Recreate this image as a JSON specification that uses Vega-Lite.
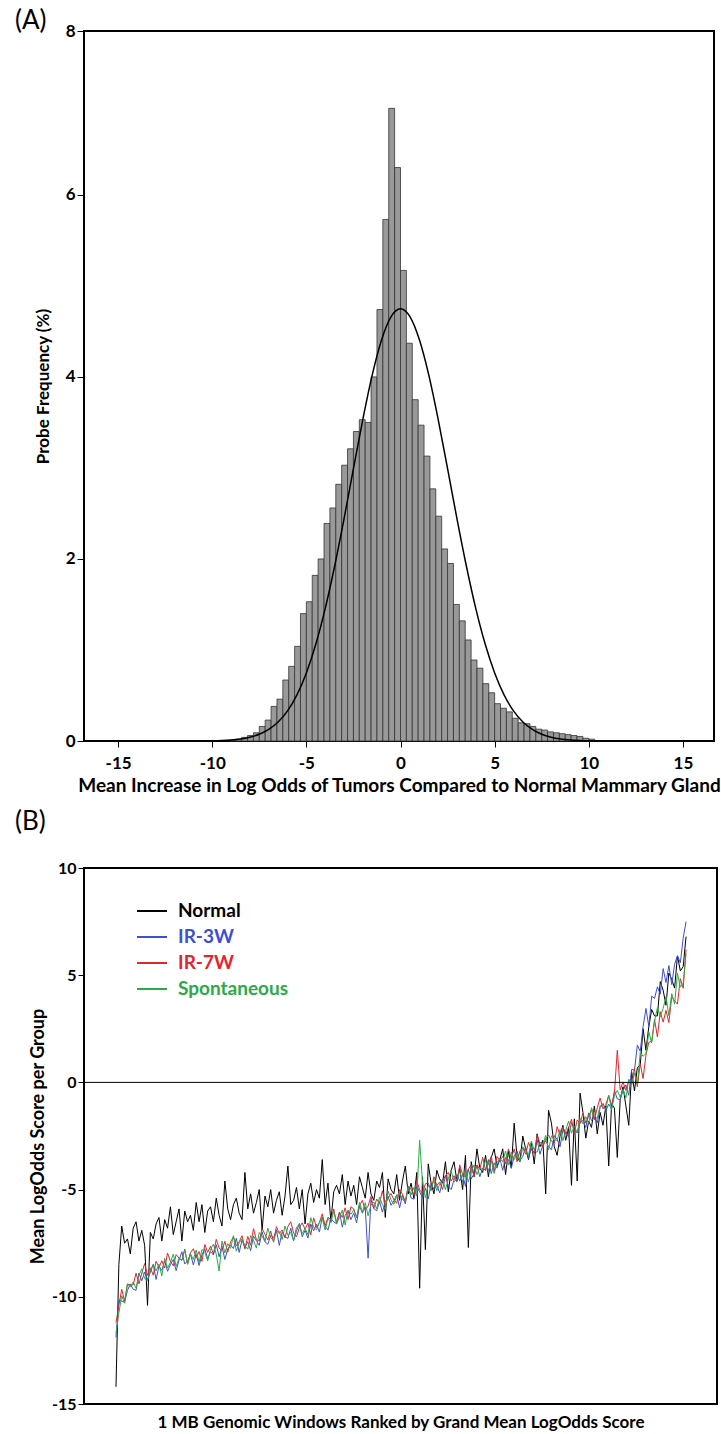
{
"$schema": "https://vega.github.io/schema/vega-lite/v6.json",
"padding": {"left": 14, "top": 7, "right": 5, "bottom": 0},
"background": "white",
"config": {
  "font": "Lato",
  "view": {"stroke": "#000", "strokeWidth": 2},
  "axis": {"labelFont": "Lato", "labelFontWeight": "bold", "labelColor": "#000", "titleFont": "Lato", "titleFontWeight": "bold", "titleColor": "#000", "tickColor": "#000", "domain": false, "grid": false},
  "title": {"font": "Lato", "fontWeight": "normal", "fontSize": 26, "anchor": "start", "color": "#000"}
},
"spacing": 12,
"vconcat": [
{
  "title": {"text": "(A)", "frame": "group", "dx": -69, "offset": -12},
  "width": 630, "height": 710,
  "layer": [
    {"data": {"values": [
      {"lo":-9.0625,"hi":-8.75,"f":0.01},{"lo":-8.75,"hi":-8.4375,"f":0.02},{"lo":-8.4375,"hi":-8.125,"f":0.04},{"lo":-8.125,"hi":-7.8125,"f":0.06},
      {"lo":-7.8125,"hi":-7.5,"f":0.09},{"lo":-7.5,"hi":-7.1875,"f":0.16},{"lo":-7.1875,"hi":-6.875,"f":0.23},{"lo":-6.875,"hi":-6.5625,"f":0.38},
      {"lo":-6.5625,"hi":-6.25,"f":0.46},{"lo":-6.25,"hi":-5.9375,"f":0.67},{"lo":-5.9375,"hi":-5.625,"f":0.82},{"lo":-5.625,"hi":-5.3125,"f":1.04},
      {"lo":-5.3125,"hi":-5,"f":1.40},{"lo":-5,"hi":-4.6875,"f":1.53},{"lo":-4.6875,"hi":-4.375,"f":1.82},{"lo":-4.375,"hi":-4.0625,"f":2.00},
      {"lo":-4.0625,"hi":-3.75,"f":2.39},{"lo":-3.75,"hi":-3.4375,"f":2.56},{"lo":-3.4375,"hi":-3.125,"f":2.82},{"lo":-3.125,"hi":-2.8125,"f":3.03},
      {"lo":-2.8125,"hi":-2.5,"f":3.21},{"lo":-2.5,"hi":-2.1875,"f":3.40},{"lo":-2.1875,"hi":-1.875,"f":3.53},{"lo":-1.875,"hi":-1.5625,"f":3.50},
      {"lo":-1.5625,"hi":-1.25,"f":4.00},{"lo":-1.25,"hi":-0.9375,"f":4.74},{"lo":-0.9375,"hi":-0.625,"f":5.73},{"lo":-0.625,"hi":-0.3125,"f":6.95},
      {"lo":-0.3125,"hi":0,"f":6.30},{"lo":0,"hi":0.3125,"f":5.17},{"lo":0.3125,"hi":0.625,"f":4.37},{"lo":0.625,"hi":0.9375,"f":3.75},
      {"lo":0.9375,"hi":1.25,"f":3.47},{"lo":1.25,"hi":1.5625,"f":3.13},{"lo":1.5625,"hi":1.875,"f":2.77},{"lo":1.875,"hi":2.1875,"f":2.47},
      {"lo":2.1875,"hi":2.5,"f":2.11},{"lo":2.5,"hi":2.8125,"f":1.95},{"lo":2.8125,"hi":3.125,"f":1.50},{"lo":3.125,"hi":3.4375,"f":1.32},
      {"lo":3.4375,"hi":3.75,"f":1.11},{"lo":3.75,"hi":4.0625,"f":0.89},{"lo":4.0625,"hi":4.375,"f":0.80},{"lo":4.375,"hi":4.6875,"f":0.63},
      {"lo":4.6875,"hi":5,"f":0.53},{"lo":5,"hi":5.3125,"f":0.41},{"lo":5.3125,"hi":5.625,"f":0.36},{"lo":5.625,"hi":5.9375,"f":0.32},
      {"lo":5.9375,"hi":6.25,"f":0.25},{"lo":6.25,"hi":6.5625,"f":0.20},{"lo":6.5625,"hi":6.875,"f":0.19},{"lo":6.875,"hi":7.1875,"f":0.16},
      {"lo":7.1875,"hi":7.5,"f":0.13},{"lo":7.5,"hi":7.8125,"f":0.12},{"lo":7.8125,"hi":8.125,"f":0.10},{"lo":8.125,"hi":8.4375,"f":0.09},
      {"lo":8.4375,"hi":8.75,"f":0.08},{"lo":8.75,"hi":9.0625,"f":0.07},{"lo":9.0625,"hi":9.375,"f":0.06},{"lo":9.375,"hi":9.6875,"f":0.05},
      {"lo":9.6875,"hi":10,"f":0.03},{"lo":10,"hi":10.3125,"f":0.02}
    ]},
    "mark": {"type": "rect", "fill": "#999999", "stroke": "#333333", "strokeWidth": 0.8},
    "encoding": {
      "x": {"field": "lo", "type": "quantitative", "scale": {"domain": [-16.81, 16.65], "nice": false, "zero": false},
            "axis": {"values": [-15, -10, -5, 0, 5, 10, 15], "labelExpr": "replace(datum.label, '\u2212', '-')", "title": "Mean Increase in Log Odds of Tumors Compared to Normal Mammary Gland", "titleFontSize": 19, "labelFontSize": 17, "tickSize": 6, "labelPadding": 8, "titlePadding": 5}},
      "x2": {"field": "hi"},
      "y": {"field": "f", "type": "quantitative", "scale": {"domain": [0, 7.8], "nice": false},
            "axis": {"values": [0, 2, 4, 6, 7.8], "format": ".0f", "title": "Probe Frequency (%)", "titleFontSize": 17, "labelFontSize": 17, "tickSize": 7, "labelPadding": 2, "titlePadding": 13}},
      "y2": {"datum": 0}
    }},
    {"data": {"values": [
      {"x":-13,"p":0},{"x":-12,"p":0.0001},{"x":-11,"p":0.0006},{"x":-10.5,"p":0.0013},{"x":-10,"p":0.0029},{"x":-9.5,"p":0.006},
      {"x":-9,"p":0.0119},{"x":-8.5,"p":0.0227},{"x":-8,"p":0.042},{"x":-7.5,"p":0.074},{"x":-7,"p":0.127},{"x":-6.5,"p":0.209},
      {"x":-6,"p":0.331},{"x":-5.5,"p":0.507},{"x":-5,"p":0.748},{"x":-4.5,"p":1.062},{"x":-4,"p":1.454},{"x":-3.5,"p":1.92},
      {"x":-3,"p":2.441},{"x":-2.5,"p":2.992},{"x":-2,"p":3.534},{"x":-1.5,"p":4.022},{"x":-1,"p":4.411},{"x":-0.5,"p":4.663},
      {"x":0,"p":4.75},{"x":0.5,"p":4.663},{"x":1,"p":4.411},{"x":1.5,"p":4.022},{"x":2,"p":3.534},{"x":2.5,"p":2.992},
      {"x":3,"p":2.441},{"x":3.5,"p":1.92},{"x":4,"p":1.454},{"x":4.5,"p":1.062},{"x":5,"p":0.748},{"x":5.5,"p":0.507},
      {"x":6,"p":0.331},{"x":6.5,"p":0.209},{"x":7,"p":0.127},{"x":7.5,"p":0.074},{"x":8,"p":0.042},{"x":8.5,"p":0.0227},
      {"x":9,"p":0.0119},{"x":9.5,"p":0.006},{"x":10,"p":0.0029},{"x":10.5,"p":0.0013},{"x":11,"p":0.0006},{"x":12,"p":0.0001},{"x":13,"p":0}
    ]},
    "mark": {"type": "line", "color": "#000", "strokeWidth": 1.5, "interpolate": "monotone"},
    "encoding": {"x": {"field": "x", "type": "quantitative"}, "y": {"field": "p", "type": "quantitative"}}}
  ]
},
{
  "title": {"text": "(B)", "frame": "group", "dx": -69, "offset": 25},
  "width": 633, "height": 536,
  "layer": [
    {"data": {"values": [
{"r":1,"Normal":-14.2,"IR-3W":-11.9,"IR-7W":-11.2,"Spontaneous":-11.7},
{"r":2,"Normal":-8.5,"IR-3W":-10.15,"IR-7W":-10.4,"Spontaneous":-10.75},
{"r":3,"Normal":-6.7,"IR-3W":-10.2,"IR-7W":-9.65,"Spontaneous":-9.95},
{"r":4,"Normal":-7.5,"IR-3W":-10.25,"IR-7W":-10.2,"Spontaneous":-10.3},
{"r":5,"Normal":-7.3,"IR-3W":-9.7,"IR-7W":-9.4,"Spontaneous":-9.4},
{"r":6,"Normal":-8.0,"IR-3W":-9.4,"IR-7W":-9.45,"Spontaneous":-9.55},
{"r":7,"Normal":-6.8,"IR-3W":-9.65,"IR-7W":-9.45,"Spontaneous":-9.3},
{"r":8,"Normal":-6.5,"IR-3W":-9.7,"IR-7W":-8.9,"Spontaneous":-9.6},
{"r":9,"Normal":-7.4,"IR-3W":-8.9,"IR-7W":-9.4,"Spontaneous":-9.0},
{"r":10,"Normal":-6.9,"IR-3W":-9.25,"IR-7W":-8.9,"Spontaneous":-8.7},
{"r":11,"Normal":-7.6,"IR-3W":-8.85,"IR-7W":-8.45,"Spontaneous":-9.15},
{"r":12,"Normal":-10.4,"IR-3W":-9.2,"IR-7W":-9.0,"Spontaneous":-9.25},
{"r":13,"Normal":-7.0,"IR-3W":-8.85,"IR-7W":-8.65,"Spontaneous":-8.75},
{"r":14,"Normal":-7.3,"IR-3W":-8.49,"IR-7W":-8.99,"Spontaneous":-8.49},
{"r":15,"Normal":-6.6,"IR-3W":-9.19,"IR-7W":-8.34,"Spontaneous":-8.79},
{"r":16,"Normal":-6.3,"IR-3W":-8.58,"IR-7W":-8.63,"Spontaneous":-8.48},
{"r":17,"Normal":-7.4,"IR-3W":-8.77,"IR-7W":-8.32,"Spontaneous":-9.02},
{"r":18,"Normal":-6.4,"IR-3W":-8.31,"IR-7W":-8.66,"Spontaneous":-8.21},
{"r":19,"Normal":-6.8,"IR-3W":-8.81,"IR-7W":-7.96,"Spontaneous":-8.66},
{"r":20,"Normal":-5.8,"IR-3W":-8.5,"IR-7W":-8.35,"Spontaneous":-8.4},
{"r":21,"Normal":-7.1,"IR-3W":-8.26,"IR-7W":-8.56,"Spontaneous":-8.01},
{"r":22,"Normal":-6.5,"IR-3W":-8.78,"IR-7W":-8.03,"Spontaneous":-8.58},
{"r":23,"Normal":-5.9,"IR-3W":-8.29,"IR-7W":-8.19,"Spontaneous":-8.19},
{"r":24,"Normal":-7.4,"IR-3W":-7.9,"IR-7W":-8.3,"Spontaneous":-8.3},
{"r":25,"Normal":-6.0,"IR-3W":-8.47,"IR-7W":-7.77,"Spontaneous":-7.82},
{"r":26,"Normal":-6.5,"IR-3W":-8.33,"IR-7W":-8.48,"Spontaneous":-8.48},
{"r":27,"Normal":-6.2,"IR-3W":-8.0,"IR-7W":-7.95,"Spontaneous":-8.0},
{"r":28,"Normal":-6.9,"IR-3W":-8.51,"IR-7W":-7.76,"Spontaneous":-8.26},
{"r":29,"Normal":-5.6,"IR-3W":-8.02,"IR-7W":-8.17,"Spontaneous":-7.82},
{"r":30,"Normal":-6.5,"IR-3W":-8.54,"IR-7W":-7.89,"Spontaneous":-8.39},
{"r":31,"Normal":-5.7,"IR-3W":-8.05,"IR-7W":-8.35,"Spontaneous":-7.8},
{"r":32,"Normal":-7.0,"IR-3W":-7.76,"IR-7W":-7.56,"Spontaneous":-7.91},
{"r":33,"Normal":-6.0,"IR-3W":-8.23,"IR-7W":-7.93,"Spontaneous":-8.33},
{"r":34,"Normal":-5.8,"IR-3W":-7.89,"IR-7W":-7.64,"Spontaneous":-7.79},
{"r":35,"Normal":-6.5,"IR-3W":-8.05,"IR-7W":-8.0,"Spontaneous":-7.55},
{"r":36,"Normal":-5.4,"IR-3W":-7.57,"IR-7W":-7.32,"Spontaneous":-8.02},
{"r":37,"Normal":-6.2,"IR-3W":-8.13,"IR-7W":-7.73,"Spontaneous":-8.8},
{"r":38,"Normal":-6.7,"IR-3W":-7.65,"IR-7W":-7.85,"Spontaneous":-7.4},
{"r":39,"Normal":-4.6,"IR-3W":-8.26,"IR-7W":-7.41,"Spontaneous":-7.96},
{"r":40,"Normal":-5.9,"IR-3W":-7.77,"IR-7W":-7.92,"Spontaneous":-7.52},
{"r":41,"Normal":-6.4,"IR-3W":-7.59,"IR-7W":-7.44,"Spontaneous":-7.74},
{"r":42,"Normal":-5.7,"IR-3W":-7.75,"IR-7W":-7.2,"Spontaneous":-7.15},
{"r":43,"Normal":-5.4,"IR-3W":-7.27,"IR-7W":-7.62,"Spontaneous":-7.87},
{"r":44,"Normal":-6.1,"IR-3W":-7.93,"IR-7W":-7.43,"Spontaneous":-7.48},
{"r":45,"Normal":-6.4,"IR-3W":-7.35,"IR-7W":-7.15,"Spontaneous":-7.3},
{"r":46,"Normal":-4.2,"IR-3W":-7.72,"IR-7W":-7.77,"Spontaneous":-7.62},
{"r":47,"Normal":-5.9,"IR-3W":-7.43,"IR-7W":-7.18,"Spontaneous":-7.78},
{"r":48,"Normal":-5.2,"IR-3W":-7.85,"IR-7W":-7.6,"Spontaneous":-7.15},
{"r":49,"Normal":-6.1,"IR-3W":-7.17,"IR-7W":-6.82,"Spontaneous":-7.37},
{"r":50,"Normal":-5.6,"IR-3W":-7.38,"IR-7W":-7.33,"Spontaneous":-7.73},
{"r":51,"Normal":-5.0,"IR-3W":-7.6,"IR-7W":-7.4,"Spontaneous":-7.0},
{"r":52,"Normal":-6.9,"IR-3W":-6.97,"IR-7W":-6.82,"Spontaneous":-7.17},
{"r":53,"Normal":-5.3,"IR-3W":-7.43,"IR-7W":-7.08,"Spontaneous":-7.43},
{"r":54,"Normal":-5.8,"IR-3W":-7.55,"IR-7W":-7.35,"Spontaneous":-6.8},
{"r":55,"Normal":-5.0,"IR-3W":-7.13,"IR-7W":-6.93,"Spontaneous":-7.23},
{"r":56,"Normal":-6.1,"IR-3W":-7.25,"IR-7W":-7.45,"Spontaneous":-7.4},
{"r":57,"Normal":-5.5,"IR-3W":-6.88,"IR-7W":-6.73,"Spontaneous":-6.98},
{"r":58,"Normal":-5.1,"IR-3W":-7.6,"IR-7W":-7.05,"Spontaneous":-6.95},
{"r":59,"Normal":-6.2,"IR-3W":-6.98,"IR-7W":-6.88,"Spontaneous":-7.33},
{"r":60,"Normal":-5.3,"IR-3W":-7.2,"IR-7W":-7.25,"Spontaneous":-6.7},
{"r":61,"Normal":-3.9,"IR-3W":-7.28,"IR-7W":-6.73,"Spontaneous":-7.13},
{"r":62,"Normal":-5.7,"IR-3W":-6.8,"IR-7W":-6.5,"Spontaneous":-7.0},
{"r":63,"Normal":-5.5,"IR-3W":-7.38,"IR-7W":-7.03,"Spontaneous":-7.38},
{"r":64,"Normal":-4.9,"IR-3W":-6.95,"IR-7W":-7.2,"Spontaneous":-6.75},
{"r":65,"Normal":-5.9,"IR-3W":-6.58,"IR-7W":-6.78,"Spontaneous":-6.63},
{"r":66,"Normal":-5.0,"IR-3W":-7.2,"IR-7W":-6.55,"Spontaneous":-7.05},
{"r":67,"Normal":-6.6,"IR-3W":-6.9,"IR-7W":-6.85,"Spontaneous":-6.8},
{"r":68,"Normal":-5.2,"IR-3W":-7.26,"IR-7W":-6.56,"Spontaneous":-7.11},
{"r":69,"Normal":-4.7,"IR-3W":-6.61,"IR-7W":-7.11,"Spontaneous":-6.31},
{"r":70,"Normal":-5.6,"IR-3W":-6.92,"IR-7W":-6.32,"Spontaneous":-6.77},
{"r":71,"Normal":-5.0,"IR-3W":-6.62,"IR-7W":-6.77,"Spontaneous":-6.87},
{"r":72,"Normal":-5.4,"IR-3W":-6.98,"IR-7W":-6.53,"Spontaneous":-6.53},
{"r":73,"Normal":-3.6,"IR-3W":-6.28,"IR-7W":-6.13,"Spontaneous":-6.33},
{"r":74,"Normal":-5.7,"IR-3W":-6.69,"IR-7W":-6.69,"Spontaneous":-6.89},
{"r":75,"Normal":-4.7,"IR-3W":-6.89,"IR-7W":-6.29,"Spontaneous":-6.34},
{"r":76,"Normal":-6.5,"IR-3W":-6.35,"IR-7W":-6.4,"Spontaneous":-6.55},
{"r":77,"Normal":-5.1,"IR-3W":-6.5,"IR-7W":-5.9,"Spontaneous":-6.0},
{"r":78,"Normal":-4.8,"IR-3W":-6.6,"IR-7W":-6.55,"Spontaneous":-6.6},
{"r":79,"Normal":-5.2,"IR-3W":-6.05,"IR-7W":-6.05,"Spontaneous":-6.3},
{"r":80,"Normal":-4.3,"IR-3W":-6.75,"IR-7W":-6.3,"Spontaneous":-5.95},
{"r":81,"Normal":-5.7,"IR-3W":-6.2,"IR-7W":-5.85,"Spontaneous":-6.65},
{"r":82,"Normal":-4.6,"IR-3W":-6.0,"IR-7W":-6.4,"Spontaneous":-5.95},
{"r":83,"Normal":-5.3,"IR-3W":-6.4,"IR-7W":-5.8,"Spontaneous":-6.15},
{"r":84,"Normal":-4.8,"IR-3W":-6.1,"IR-7W":-5.9,"Spontaneous":-5.95},
{"r":85,"Normal":-5.7,"IR-3W":-6.55,"IR-7W":-6.3,"Spontaneous":-6.3},
{"r":86,"Normal":-4.4,"IR-3W":-5.75,"IR-7W":-5.75,"Spontaneous":-5.6},
{"r":87,"Normal":-4.9,"IR-3W":-6.1,"IR-7W":-5.5,"Spontaneous":-6.05},
{"r":88,"Normal":-5.4,"IR-3W":-5.81,"IR-7W":-5.96,"Spontaneous":-5.61},
{"r":89,"Normal":-4.2,"IR-3W":-8.2,"IR-7W":-5.77,"Spontaneous":-6.22},
{"r":90,"Normal":-5.2,"IR-3W":-5.47,"IR-7W":-5.32,"Spontaneous":-5.72},
{"r":91,"Normal":-5.5,"IR-3W":-5.88,"IR-7W":-5.88,"Spontaneous":-5.58},
{"r":92,"Normal":-4.6,"IR-3W":-5.99,"IR-7W":-5.44,"Spontaneous":-5.89},
{"r":93,"Normal":-4.9,"IR-3W":-5.55,"IR-7W":-5.65,"Spontaneous":-5.35},
{"r":94,"Normal":-4.2,"IR-3W":-6.05,"IR-7W":-5.05,"Spontaneous":-5.7},
{"r":95,"Normal":-6.3,"IR-3W":-5.56,"IR-7W":-5.76,"Spontaneous":-5.91},
{"r":96,"Normal":-4.5,"IR-3W":-5.32,"IR-7W":-5.37,"Spontaneous":-5.07},
{"r":97,"Normal":-5.0,"IR-3W":-5.73,"IR-7W":-5.18,"Spontaneous":-5.48},
{"r":98,"Normal":-5.2,"IR-3W":-5.53,"IR-7W":-5.48,"Spontaneous":-5.68},
{"r":99,"Normal":-4.3,"IR-3W":-5.24,"IR-7W":-5.64,"Spontaneous":-5.29},
{"r":100,"Normal":-5.5,"IR-3W":-5.85,"IR-7W":-5.0,"Spontaneous":-5.15},
{"r":101,"Normal":-4.6,"IR-3W":-5.26,"IR-7W":-5.21,"Spontaneous":-5.46},
{"r":102,"Normal":-3.9,"IR-3W":-5.67,"IR-7W":-5.57,"Spontaneous":-5.57},
{"r":103,"Normal":-5.2,"IR-3W":-4.88,"IR-7W":-4.83,"Spontaneous":-4.83},
{"r":104,"Normal":-4.7,"IR-3W":-5.39,"IR-7W":-4.99,"Spontaneous":-5.24},
{"r":105,"Normal":-5.4,"IR-3W":-5.45,"IR-7W":-5.25,"Spontaneous":-4.9},
{"r":106,"Normal":-4.2,"IR-3W":-4.85,"IR-7W":-4.6,"Spontaneous":-5.3},
{"r":107,"Normal":-9.6,"IR-3W":-5.11,"IR-7W":-5.01,"Spontaneous":-2.7},
{"r":108,"Normal":-4.4,"IR-3W":-5.37,"IR-7W":-5.17,"Spontaneous":-4.67},
{"r":109,"Normal":-7.8,"IR-3W":-4.93,"IR-7W":-4.73,"Spontaneous":-5.38},
{"r":110,"Normal":-3.8,"IR-3W":-5.44,"IR-7W":-4.69,"Spontaneous":-4.79},
{"r":111,"Normal":-4.7,"IR-3W":-4.7,"IR-7W":-5.05,"Spontaneous":-5.0},
{"r":112,"Normal":-5.2,"IR-3W":-5.0,"IR-7W":-4.4,"Spontaneous":-4.55},
{"r":113,"Normal":-4.1,"IR-3W":-4.8,"IR-7W":-4.8,"Spontaneous":-5.05},
{"r":114,"Normal":-4.5,"IR-3W":-5.15,"IR-7W":-4.65,"Spontaneous":-4.75},
{"r":115,"Normal":-4.7,"IR-3W":-4.6,"IR-7W":-5.0,"Spontaneous":-4.5},
{"r":116,"Normal":-3.7,"IR-3W":-4.35,"IR-7W":-4.35,"Spontaneous":-5.0},
{"r":117,"Normal":-5.1,"IR-3W":-4.85,"IR-7W":-4.2,"Spontaneous":-4.5},
{"r":118,"Normal":-4.1,"IR-3W":-5.0,"IR-7W":-4.6,"Spontaneous":-4.1},
{"r":119,"Normal":-3.7,"IR-3W":-4.55,"IR-7W":-4.35,"Spontaneous":-4.65},
{"r":120,"Normal":-4.6,"IR-3W":-4.3,"IR-7W":-4.65,"Spontaneous":-4.5},
{"r":121,"Normal":-4.0,"IR-3W":-4.6,"IR-7W":-3.85,"Spontaneous":-4.15},
{"r":122,"Normal":-5.0,"IR-3W":-4.3,"IR-7W":-4.3,"Spontaneous":-4.65},
{"r":123,"Normal":-3.4,"IR-3W":-4.85,"IR-7W":-4.4,"Spontaneous":-4.15},
{"r":124,"Normal":-7.7,"IR-3W":-4.05,"IR-7W":-4.05,"Spontaneous":-4.65},
{"r":125,"Normal":-3.7,"IR-3W":-4.5,"IR-7W":-3.85,"Spontaneous":-4.15},
{"r":126,"Normal":-4.4,"IR-3W":-4.25,"IR-7W":-4.4,"Spontaneous":-3.85},
{"r":127,"Normal":-3.1,"IR-3W":-3.85,"IR-7W":-3.85,"Spontaneous":-4.3},
{"r":128,"Normal":-4.0,"IR-3W":-4.4,"IR-7W":-4.05,"Spontaneous":-3.95},
{"r":129,"Normal":-4.2,"IR-3W":-4.0,"IR-7W":-3.5,"Spontaneous":-4.1},
{"r":130,"Normal":-3.4,"IR-3W":-4.1,"IR-7W":-4.1,"Spontaneous":-3.6},
{"r":131,"Normal":-4.4,"IR-3W":-3.6,"IR-7W":-3.8,"Spontaneous":-4.15},
{"r":132,"Normal":-3.5,"IR-3W":-4.25,"IR-7W":-3.45,"Spontaneous":-3.65},
{"r":133,"Normal":-3.1,"IR-3W":-3.75,"IR-7W":-4.15,"Spontaneous":-4.25},
{"r":134,"Normal":-3.9,"IR-3W":-4.0,"IR-7W":-3.45,"Spontaneous":-3.75},
{"r":135,"Normal":-3.6,"IR-3W":-3.55,"IR-7W":-3.65,"Spontaneous":-3.55},
{"r":136,"Normal":-3.1,"IR-3W":-4.1,"IR-7W":-3.45,"Spontaneous":-3.7},
{"r":137,"Normal":-4.3,"IR-3W":-3.5,"IR-7W":-3.8,"Spontaneous":-3.2},
{"r":138,"Normal":-3.2,"IR-3W":-3.6,"IR-7W":-3.1,"Spontaneous":-3.85},
{"r":139,"Normal":-4.0,"IR-3W":-4.0,"IR-7W":-3.55,"Spontaneous":-3.25},
{"r":140,"Normal":-1.9,"IR-3W":-3.45,"IR-7W":-3.1,"Spontaneous":-3.6},
{"r":141,"Normal":-3.5,"IR-3W":-3.2,"IR-7W":-3.7,"Spontaneous":-3.3},
{"r":142,"Normal":-3.7,"IR-3W":-3.65,"IR-7W":-3.2,"Spontaneous":-3.7},
{"r":143,"Normal":-2.5,"IR-3W":-3.45,"IR-7W":-3.05,"Spontaneous":-3.0},
{"r":144,"Normal":-3.1,"IR-3W":-3.0,"IR-7W":-3.35,"Spontaneous":-3.2},
{"r":145,"Normal":-3.6,"IR-3W":-3.55,"IR-7W":-2.8,"Spontaneous":-3.4},
{"r":146,"Normal":-2.8,"IR-3W":-3.09,"IR-7W":-3.14,"Spontaneous":-2.74},
{"r":147,"Normal":-3.8,"IR-3W":-3.27,"IR-7W":-3.32,"Spontaneous":-3.17},
{"r":148,"Normal":-2.4,"IR-3W":-2.66,"IR-7W":-2.46,"Spontaneous":-3.26},
{"r":149,"Normal":-3.0,"IR-3W":-3.35,"IR-7W":-2.85,"Spontaneous":-2.8},
{"r":150,"Normal":-2.7,"IR-3W":-2.93,"IR-7W":-3.03,"Spontaneous":-2.88},
{"r":151,"Normal":-5.2,"IR-3W":-2.72,"IR-7W":-2.62,"Spontaneous":-2.47},
{"r":152,"Normal":-1.3,"IR-3W":-3.0,"IR-7W":-2.45,"Spontaneous":-3.15},
{"r":153,"Normal":-1.9,"IR-3W":-3.14,"IR-7W":-2.74,"Spontaneous":-2.49},
{"r":154,"Normal":-3.0,"IR-3W":-2.48,"IR-7W":-2.83,"Spontaneous":-2.68},
{"r":155,"Normal":-3.4,"IR-3W":-2.66,"IR-7W":-2.06,"Spontaneous":-2.71},
{"r":156,"Normal":-2.5,"IR-3W":-3.0,"IR-7W":-2.45,"Spontaneous":-2.2},
{"r":157,"Normal":-2.0,"IR-3W":-2.22,"IR-7W":-2.07,"Spontaneous":-2.72},
{"r":158,"Normal":-2.7,"IR-3W":-2.33,"IR-7W":-2.43,"Spontaneous":-2.23},
{"r":159,"Normal":-2.1,"IR-3W":-2.55,"IR-7W":-2.1,"Spontaneous":-1.8},
{"r":160,"Normal":-4.8,"IR-3W":-1.87,"IR-7W":-1.72,"Spontaneous":-2.37},
{"r":161,"Normal":-1.7,"IR-3W":-2.23,"IR-7W":-2.38,"Spontaneous":-2.03},
{"r":162,"Normal":-4.6,"IR-3W":-2.35,"IR-7W":-1.75,"Spontaneous":-2.35},
{"r":163,"Normal":-0.5,"IR-3W":-1.87,"IR-7W":-1.92,"Spontaneous":-1.67},
{"r":164,"Normal":-1.4,"IR-3W":-1.78,"IR-7W":-1.43,"Spontaneous":-1.93},
{"r":165,"Normal":-2.6,"IR-3W":-2.1,"IR-7W":-1.9,"Spontaneous":-1.6},
{"r":166,"Normal":-1.8,"IR-3W":-1.42,"IR-7W":-1.57,"Spontaneous":-1.92},
{"r":167,"Normal":-2.1,"IR-3W":-1.78,"IR-7W":-1.28,"Spontaneous":-1.18},
{"r":168,"Normal":-1.1,"IR-3W":-1.6,"IR-7W":-1.75,"Spontaneous":-1.55},
{"r":169,"Normal":-2.4,"IR-3W":-1.89,"IR-7W":-1.19,"Spontaneous":-1.69},
{"r":170,"Normal":-1.4,"IR-3W":-1.18,"IR-7W":-0.73,"Spontaneous":-1.08},
{"r":171,"Normal":-2.0,"IR-3W":-0.98,"IR-7W":-1.23,"Spontaneous":-1.18},
{"r":172,"Normal":-1.1,"IR-3W":-1.32,"IR-7W":-1.02,"Spontaneous":-1.22},
{"r":173,"Normal":-3.9,"IR-3W":-1.01,"IR-7W":-0.61,"Spontaneous":-0.61},
{"r":174,"Normal":-1.0,"IR-3W":-1.25,"IR-7W":-1.05,"Spontaneous":-1.25},
{"r":175,"Normal":-1.2,"IR-3W":-0.38,"IR-7W":-0.48,"Spontaneous":-0.63},
{"r":176,"Normal":-3.5,"IR-3W":-0.77,"IR-7W":1.5,"Spontaneous":-0.37},
{"r":177,"Normal":-0.8,"IR-3W":-0.8,"IR-7W":-0.35,"Spontaneous":-0.7},
{"r":178,"Normal":-0.2,"IR-3W":-0.38,"IR-7W":0.02,"Spontaneous":-0.33},
{"r":179,"Normal":-1.1,"IR-3W":-0.12,"IR-7W":-0.37,"Spontaneous":-0.72},
{"r":180,"Normal":-2.0,"IR-3W":-0.6,"IR-7W":0.05,"Spontaneous":0.15},
{"r":181,"Normal":0.5,"IR-3W":0.61,"IR-7W":-0.09,"Spontaneous":-0.09},
{"r":182,"Normal":-0.4,"IR-3W":0.57,"IR-7W":0.64,"Spontaneous":0.42},
{"r":183,"Normal":0.7,"IR-3W":1.74,"IR-7W":-0.2,"Spontaneous":-0.1},
{"r":184,"Normal":0.8,"IR-3W":1.45,"IR-7W":0.87,"Spontaneous":1.39},
{"r":185,"Normal":2.5,"IR-3W":2.6,"IR-7W":0.18,"Spontaneous":1.22},
{"r":186,"Normal":1.5,"IR-3W":3.45,"IR-7W":1.27,"Spontaneous":1.35},
{"r":187,"Normal":2.6,"IR-3W":2.61,"IR-7W":1.87,"Spontaneous":2.35},
{"r":188,"Normal":3.4,"IR-3W":4.02,"IR-7W":1.92,"Spontaneous":1.84},
{"r":189,"Normal":3.1,"IR-3W":3.92,"IR-7W":2.94,"Spontaneous":2.86},
{"r":190,"Normal":3.1,"IR-3W":4.46,"IR-7W":2.12,"Spontaneous":3.48},
{"r":191,"Normal":4.7,"IR-3W":4.12,"IR-7W":3.3,"Spontaneous":3.06},
{"r":192,"Normal":4.3,"IR-3W":5.31,"IR-7W":2.81,"Spontaneous":3.45},
{"r":193,"Normal":3.6,"IR-3W":4.66,"IR-7W":3.36,"Spontaneous":4.0},
{"r":194,"Normal":5.1,"IR-3W":5.45,"IR-7W":2.79,"Spontaneous":3.11},
{"r":195,"Normal":4.8,"IR-3W":4.56,"IR-7W":3.98,"Spontaneous":4.14},
{"r":196,"Normal":4.4,"IR-3W":5.51,"IR-7W":3.81,"Spontaneous":3.65},
{"r":197,"Normal":5.9,"IR-3W":5.91,"IR-7W":3.65,"Spontaneous":5.09},
{"r":198,"Normal":5.2,"IR-3W":5.58,"IR-7W":4.84,"Spontaneous":4.44},
{"r":199,"Normal":5.4,"IR-3W":6.73,"IR-7W":4.39,"Spontaneous":4.63},
{"r":200,"Normal":6.8,"IR-3W":7.5,"IR-7W":6.2,"Spontaneous":6.0}
    ]},
    "transform": [{"fold": ["Normal", "IR-3W", "IR-7W", "Spontaneous"], "as": ["group", "score"]}],
    "mark": {"type": "line", "strokeWidth": 1},
    "encoding": {
      "x": {"field": "r", "type": "quantitative", "scale": {"domain": [-10.17, 210.8], "nice": false, "zero": false},
            "axis": {"title": "1 MB Genomic Windows Ranked by Grand Mean LogOdds Score", "labels": false, "ticks": false, "titleFontSize": 17, "titlePadding": 10}},
      "y": {"field": "score", "type": "quantitative", "scale": {"domain": [-15, 10], "nice": false},
            "axis": {"values": [-15, -10, -5, 0, 5, 10], "labelExpr": "replace(datum.label, '\u2212', '-')", "title": "Mean LogOdds Score per Group", "titleFontSize": 18, "labelFontSize": 16, "tickSize": 6, "labelPadding": 2}},
      "color": {"field": "group", "type": "nominal",
                "scale": {"domain": ["Normal", "IR-3W", "IR-7W", "Spontaneous"], "range": ["#000000", "#3f4fcf", "#e3262e", "#2aaa48"]},
                "legend": {"title": null, "orient": "none", "legendX": 52, "legendY": 864, "symbolType": "stroke", "symbolSize": 900, "symbolStrokeWidth": 2, "labelFontSize": 19, "labelFont": "Lato", "labelFontWeight": "bold", "labelOffset": 10, "rowPadding": 0, "padding": 0,
                           "encode": {"labels": {"update": {"fill": {"scale": "color", "field": "value"}}}}}}
    }},
    {"data": {"values": [{"z": 0}]},
     "mark": {"type": "rule", "color": "#000", "strokeWidth": 1},
     "encoding": {"y": {"field": "z", "type": "quantitative", "scale": {"domain": [-15, 10], "nice": false},
            "axis": {"values": [-15, -10, -5, 0, 5, 10], "labelExpr": "replace(datum.label, '\u2212', '-')", "title": "Mean LogOdds Score per Group", "titleFontSize": 18, "labelFontSize": 16, "tickSize": 6, "labelPadding": 2}}}}
  ]
}
]
}
